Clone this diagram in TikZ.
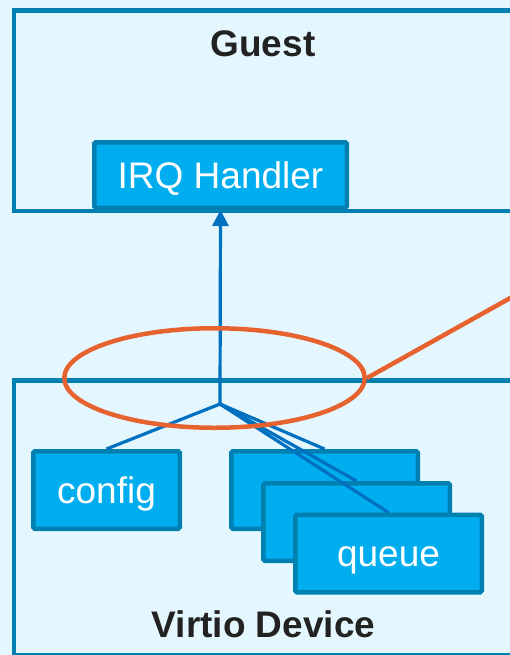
\documentclass[tikz,border=0pt]{standalone}
\usepackage{fontspec}
\setmainfont{Liberation Sans}
\usetikzlibrary{arrows.meta,shapes.geometric}
\definecolor{bgblue}{HTML}{E5F7FE}
\definecolor{frameblue}{HTML}{0080B0}
\definecolor{boxfill}{HTML}{00AEEF}
\definecolor{wireblue}{HTML}{0070C0}
\definecolor{markorange}{HTML}{E6632F}
\definecolor{titlegray}{HTML}{222222}
\tikzset{
  region/.style={draw=frameblue, line width=2.25pt},
  title/.style={font=\fontsize{18.5pt}{22pt}\selectfont\bfseries, text=titlegray, anchor=base, inner sep=0pt},
  block/.style={draw=frameblue, fill=boxfill, line width=2.25pt, rectangle, rounded corners=0.8pt,
    inner sep=0pt, text=white, font=\fontsize{18.5pt}{22pt}\selectfont,
    text height=13.3pt, text depth=0pt},
  wire/.style={draw=wireblue, line width=1.6pt},
  highlight/.style={draw=markorange, line width=2.25pt}
}
\begin{document}
\begin{tikzpicture}[x=0.5pt,y=-0.5pt]
  % canvas
  \fill[bgblue] (0,0) rectangle (510,655);
  \clip (0,0) rectangle (510,655);

  % containers
  \draw[region] (540,10.5) -- (14,10.5) -- (14,211) -- (540,211);
  \draw[region] (540,380.5) -- (14,380.5) -- (14,655) -- (540,655);
  \node[title] (guest) at (263,56) {Guest};
  \node[title] (virtio) at (263.5,637) {Virtio Device};

  % blocks
  \node[block, minimum width=126.25pt, minimum height=32.75pt] (irq) at (220.5,175) {IRQ Handler};
  \node[block, minimum width=73.25pt, minimum height=38.75pt] (config) at (106.5,490) {config};
  \node[block, minimum width=93.25pt, minimum height=38.75pt] (q1) at (324.5,490) {};
  \node[block, minimum width=93.25pt, minimum height=38.75pt] (q2) at (356.5,522) {};
  \node[block, minimum width=93.25pt, minimum height=38.75pt] (q3) at (388.5,553.5) {queue};

  % interrupt fan-in
  \coordinate (join) at (220,404);
  \draw[wire] (join) -- (config.north);
  \draw[wire] (join) -- (q1.north);
  \draw[wire] (join) -- (q2.north);
  \draw[wire] (join) -- (q3.north);
  \draw[wire, -{Triangle[length=8pt,width=8pt]}] (join) -- (irq.south);

  % callout
  \node[highlight, ellipse, minimum width=150.25pt, minimum height=49.75pt, inner sep=0pt] (sel) at (214.5,378) {};
  \coordinate (tail) at (530,287);
  \draw[highlight] (sel.east) -- (tail);
\end{tikzpicture}
\end{document}
